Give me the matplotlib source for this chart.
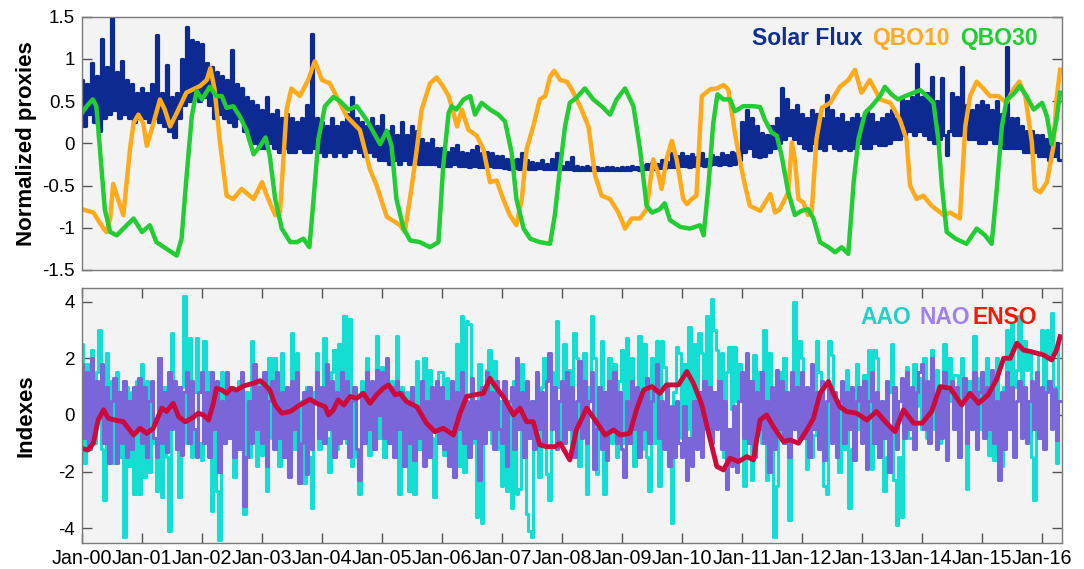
import numpy as np
import matplotlib
matplotlib.use("Agg")
import matplotlib.pyplot as plt
from matplotlib.offsetbox import TextArea, HPacker, AnchoredOffsetbox

plt.rcParams.update({"font.family": ["Liberation Sans", "DejaVu Sans"],
                     "axes.unicode_minus": False})

# ---------------- data ----------------
# solar flux, normalized, two samples per month (Jan-2000 .. Apr-2016)
solar = [
    0.75, 0.2, 0.7, 0.35, 0.95, 0.25, 0.8, 0.15, 1.24, 0.3, 0.9, 0.35, 1.5, 0.4, 0.85, 0.3, 0.98, 0.35, 0.75, 0.3, 0.7, 0.25, 0.6, 0.3,
    0.65, 0.3, 0.6, 0.25, 0.7, 0.3, 1.28, 0.25, 0.6, 0.2, 0.93, 0.15, 0.55, 0.08, 0.6, 0.3, 1.0, 0.45, 1.38, 0.5, 1.22, 0.55, 1.2, 0.5,
    1.18, 0.55, 0.95, 0.45, 0.9, 0.3, 0.85, 0.35, 0.8, 0.3, 0.75, 0.25, 1.1, 0.2, 0.7, 0.3, 0.65, 0.15, 0.55, 0.05, 0.5, 0.0, 0.45, -0.05,
    0.4, -0.05, 0.55, 0.0, 0.35, -0.05, 0.4, -0.1, 0.3, -0.05, 0.35, -0.1, 0.3, -0.1, 0.25, -0.05, 0.3, -0.1, 0.45, -0.1, 1.3, -0.05, 0.3, -0.1,
    0.25, -0.15, 0.2, -0.1, 0.3, -0.15, 0.2, -0.1, 0.25, -0.15, 0.35, -0.1, 0.55, -0.05, 0.3, -0.1, 0.25, -0.15, 0.2, -0.1, 0.3, -0.15, 0.2, -0.2,
    0.33, -0.2, 0.15, -0.25, 0.2, -0.2, 0.1, -0.25, 0.25, -0.2, 0.1, -0.25, 0.2, -0.2, 0.15, -0.25, 0.05, -0.25, 0.0, -0.25, 0.05, -0.25, -0.05, -0.27,
    -0.05, -0.27, -0.1, -0.27, -0.05, -0.25, -0.02, -0.27, -0.1, -0.27, -0.12, -0.28, -0.08, -0.27, -0.03, -0.28, -0.12, -0.28, -0.1, -0.27, -0.12, -0.28, -0.15, -0.28,
    -0.15, -0.29, -0.18, -0.3, -0.2, -0.29, -0.18, -0.3, -0.12, -0.29, -0.2, -0.3, -0.22, -0.3, -0.23, -0.29, -0.2, -0.3, -0.25, -0.3, -0.18, -0.3, -0.12, -0.3,
    -0.27, -0.3, -0.22, -0.3, -0.16, -0.31, -0.27, -0.31, -0.28, -0.31, -0.27, -0.31, -0.28, -0.31, -0.28, -0.31, -0.29, -0.31, -0.28, -0.31, -0.28, -0.31, -0.29, -0.31,
    -0.28, -0.31, -0.28, -0.31, -0.27, -0.3, -0.28, -0.31, -0.26, -0.3, -0.25, -0.3, -0.23, -0.3, -0.24, -0.29, -0.2, -0.29, -0.22, -0.28, -0.12, -0.28, -0.15, -0.27,
    -0.12, -0.27, -0.15, -0.28, -0.13, -0.27, -0.16, -0.26, -0.12, -0.27, -0.18, -0.26, -0.14, -0.25, -0.16, -0.26, -0.12, -0.25, -0.14, -0.26, -0.1, -0.25, -0.12, -0.2,
    0.25, -0.1, 0.39, -0.05, 0.3, -0.15, 0.2, -0.16, 0.12, -0.15, 0.1, -0.1, 0.2, -0.05, 0.3, 0.0, 0.65, 0.05, 0.53, 0.1, 0.39, 0.05, 0.45, 0.0,
    0.35, -0.05, 0.3, -0.08, 0.4, 0.0, 0.35, -0.05, 0.3, -0.08, 0.57, 0.0, 0.4, -0.05, 0.3, -0.08, 0.35, -0.05, 0.25, -0.08, 0.3, -0.05, 0.35, 0.0,
    0.3, -0.05, 0.4, -0.06, 0.35, 0.0, 0.25, -0.02, 0.3, -0.02, 0.35, 0.0, 0.4, 0.05, 0.3, 0.05, 0.55, 0.1, 0.5, 0.15, 0.55, 0.1, 0.94, 0.15,
    0.55, 0.1, 0.6, 0.05, 0.79, 0.0, 0.5, 0.05, 0.77, 0.1, -0.14, 0.15, 0.6, 0.1, 0.55, 0.1, 0.9, 0.15, 0.45, 0.05, 0.4, 0.05, 0.45, 0.0,
    0.5, 0.0, 0.45, 0.05, 0.4, 0.0, 0.5, 0.0, 0.35, -0.05, 1.14, -0.05, 0.3, -0.05, 0.3, -0.05, 0.2, -0.1, 0.15, -0.1, 0.15, -0.1, 0.1, -0.15,
    0.1, -0.15, 0.05, -0.2, 0.1, -0.15, 0.0, -0.2,
]

# QBO indices, traced points (decimal year since 2000, normalized value)
qbo10_t = [0.0, 0.19, 0.36, 0.41, 0.47, 0.52, 0.6, 0.69, 0.8, 0.86, 0.94, 1.02, 1.08, 1.16, 1.3, 1.38, 1.47, 1.58, 1.74, 1.97,
           2.08, 2.14, 2.21, 2.3, 2.41, 2.52, 2.66, 2.86, 3.0, 3.08, 3.22, 3.3, 3.41, 3.49, 3.63, 3.77, 3.88, 4.0, 4.13, 4.24,
           4.41, 4.63, 4.8, 4.91, 5.08, 5.3, 5.38, 5.49, 5.58, 5.66, 5.8, 5.91, 6.02, 6.11, 6.19, 6.25, 6.33, 6.44, 6.58, 6.69,
           6.8, 6.91, 7.02, 7.13, 7.24, 7.33, 7.41, 7.52, 7.63, 7.72, 7.8, 7.87, 7.97, 8.08, 8.16, 8.3, 8.44, 8.55, 8.66, 8.8,
           8.94, 9.05, 9.16, 9.3, 9.41, 9.52, 9.6, 9.66, 9.74, 9.83, 9.91, 10.02, 10.08, 10.16, 10.24, 10.33, 10.47, 10.58, 10.69, 10.77,
           10.88, 10.97, 11.05, 11.13, 11.3, 11.47, 11.55, 11.63, 11.77, 11.83, 11.88, 11.94, 12.02, 12.1, 12.16, 12.24, 12.33, 12.47, 12.63, 12.77,
           12.88, 12.99, 13.13, 13.3, 13.47, 13.63, 13.74, 13.8, 13.91, 14.02, 14.16, 14.36, 14.47, 14.63, 14.72, 14.8, 14.91, 15.02, 15.13, 15.27,
           15.41, 15.52, 15.62, 15.72, 15.83, 15.88, 15.97, 16.08, 16.19, 16.24, 16.3]
qbo10 = [-0.78, -0.82, -1.01, -1.05, -0.89, -0.48, -0.66, -0.85, -0.07, 0.24, 0.34, 0.24, -0.03, 0.16, 0.52, 0.40, 0.20, 0.36, 0.60, 0.68,
         0.75, 0.89, 0.64, 0.01, -0.62, -0.66, -0.54, -0.66, -0.46, -0.62, -0.85, -0.82, 0.40, 0.65, 0.56, 0.75, 0.97, 0.75, 0.71, 0.56,
         0.32, 0.16, -0.31, -0.50, -0.87, -0.97, -1.05, -0.54, -0.07, 0.40, 0.71, 0.78, 0.67, 0.56, 0.36, 0.20, 0.40, 0.16, 0.09, -0.07,
         -0.46, -0.44, -0.66, -0.85, -0.97, -0.66, -0.07, 0.20, 0.52, 0.56, 0.79, 0.86, 0.75, 0.73, 0.64, 0.44, 0.20, -0.38, -0.62, -0.66,
         -0.82, -1.01, -0.89, -0.89, -0.78, -0.19, -0.35, -0.54, -0.19, 0.03, -0.19, -0.66, -0.72, -0.66, -0.62, 0.56, 0.64, 0.65, 0.69, 0.64,
         0.13, -0.23, -0.50, -0.74, -0.80, -0.60, -0.82, -0.78, -0.58, 0.01, -0.19, -0.66, -0.70, -0.85, -0.82, 0.05, 0.42, 0.48, 0.67, 0.75,
         0.87, 0.60, 0.75, 0.52, 0.48, 0.28, 0.05, -0.50, -0.66, -0.62, -0.74, -0.85, -0.82, -0.89, 0.20, 0.56, 0.73, 0.65, 0.56, 0.56,
         0.48, 0.64, 0.73, 0.56, 0.01, -0.54, -0.58, -0.46, -0.03, 0.52, 0.87]

qbo30_t = [0.0, 0.08, 0.18, 0.24, 0.3, 0.38, 0.47, 0.58, 0.69, 0.86, 1.0, 1.13, 1.24, 1.41, 1.58, 1.66, 1.74, 1.83, 1.91, 2.0,
           2.13, 2.24, 2.33, 2.41, 2.52, 2.63, 2.74, 2.86, 2.97, 3.06, 3.13, 3.22, 3.33, 3.47, 3.58, 3.69, 3.79, 3.86, 3.94, 4.05,
           4.19, 4.3, 4.44, 4.58, 4.74, 4.86, 4.97, 5.08, 5.16, 5.24, 5.36, 5.47, 5.63, 5.8, 5.94, 6.02, 6.11, 6.16, 6.24, 6.36,
           6.47, 6.55, 6.66, 6.8, 6.94, 7.05, 7.16, 7.24, 7.36, 7.47, 7.63, 7.8, 7.88, 7.97, 8.05, 8.13, 8.24, 8.38, 8.52, 8.66,
           8.8, 8.91, 9.05, 9.19, 9.3, 9.41, 9.5, 9.63, 9.71, 9.8, 9.97, 10.13, 10.3, 10.36, 10.44, 10.52, 10.59, 10.69, 10.8, 10.88,
           11.02, 11.19, 11.3, 11.38, 11.49, 11.58, 11.66, 11.77, 11.88, 11.99, 12.1, 12.19, 12.3, 12.44, 12.55, 12.66, 12.77, 12.86, 12.94, 13.05,
           13.16, 13.3, 13.38, 13.49, 13.6, 13.72, 13.86, 13.97, 14.08, 14.19, 14.27, 14.33, 14.41, 14.56, 14.74, 14.91, 15.05, 15.16, 15.24, 15.33,
           15.41, 15.52, 15.63, 15.74, 15.86, 16.0, 16.08, 16.16, 16.24, 16.3]
qbo30 = [0.36, 0.44, 0.52, 0.44, -0.07, -0.78, -1.05, -1.09, -1.01, -0.89, -1.05, -0.97, -1.17, -1.25, -1.33, -1.13, -0.42, 0.32, 0.62, 0.52,
         0.67, 0.56, 0.56, 0.42, 0.44, 0.32, 0.16, -0.13, -0.03, 0.07, -0.15, -0.66, -1.01, -1.17, -1.17, -1.13, -1.23, -0.66, 0.05, 0.44,
         0.55, 0.50, 0.40, 0.44, 0.28, 0.13, -0.01, 0.15, -0.03, -0.66, -1.01, -1.15, -1.17, -1.23, -1.17, -0.27, 0.36, 0.44, 0.40, 0.52,
         0.56, 0.34, 0.48, 0.40, 0.34, 0.26, -0.11, -0.66, -1.01, -1.13, -1.17, -1.19, -0.85, -0.27, 0.20, 0.48, 0.54, 0.65, 0.52, 0.44,
         0.34, 0.52, 0.65, 0.44, -0.07, -0.74, -0.82, -0.78, -0.71, -0.91, -0.99, -1.01, -0.97, -1.09, -0.50, 0.24, 0.58, 0.52, 0.52, 0.38,
         0.44, 0.44, 0.43, 0.28, 0.13, 0.09, -0.15, -0.58, -0.85, -0.80, -0.78, -0.89, -1.17, -1.23, -1.29, -1.23, -1.31, -0.46, 0.05, 0.36,
         0.44, 0.56, 0.67, 0.58, 0.52, 0.56, 0.60, 0.63, 0.56, 0.48, 0.05, -0.50, -1.05, -1.13, -1.19, -1.01, -1.09, -1.19, -0.58, 0.20,
         0.52, 0.58, 0.68, 0.56, 0.40, 0.48, 0.32, -0.01, 0.28, 0.60]

# AAO and NAO indices, two samples per month (Jan-2000 .. Apr-2016)
aao = [
    2.5, -1.7, 1.8, -0.5, 2.3, -1.0, 1.5, 3.0, -1.2, -3.0, 2.2, -0.8, 1.2, -1.7, 1.5, -1.5, 0.5, -4.3, 1.0, -1.8, 0.8, -2.8, 1.2, -2.8,
    1.8, -2.2, 1.2, -2.0, 0.8, -1.0, -2.7, 2.0, -2.9, 1.0, -1.5, -4.1, 2.9, 0.5, -1.2, -2.9, 1.0, 4.2, -1.0, 2.7, -1.5, 0.8, 2.7, -1.0,
    -1.6, 2.6, -1.0, 1.5, -3.4, 0.5, -2.7, -4.4, 1.5, -1.0, 0.8, -0.5, 1.0, -2.2, 0.5, 1.2, -1.0, -3.5, 0.8, -1.5, 2.6, 1.0, -1.8, 1.2,
    -1.4, 0.5, -2.7, 2.0, -0.8, 2.0, 1.0, -1.8, 2.2, -0.5, 0.8, -1.5, 2.9, -1.2, 2.2, -2.0, 0.5, -2.4, 1.0, -1.5, -3.3, 0.8, 2.2, -1.2,
    1.0, 2.7, -0.8, -2.0, 1.5, 2.3, -1.2, 2.5, 0.5, 3.5, -1.0, 3.4, -1.8, 0.8, -1.5, -2.8, 1.2, -0.5, 2.0, -1.4, 0.8, -1.0, 2.8, -0.8,
    1.7, -1.5, 1.9, -1.0, 1.2, -0.8, 2.8, -2.8, 1.0, -1.6, 0.8, -2.7, 1.0, -2.8, 1.9, -1.2, 0.8, 2.0, -1.0, 1.6, -0.8, -2.9, 0.5, 1.5,
    1.5, -1.4, 1.3, -0.8, 0.5, -1.6, 2.5, -1.8, 3.5, -2.0, 3.3, 3.2, -1.0, 0.5, -3.6, 1.8, -3.8, 0.8, 1.6, 2.3, -1.0, 1.9, -1.2, 0.5,
    -2.5, 1.0, -2.7, 0.5, -3.3, 1.2, -2.8, -2.6, 1.8, -1.0, -3.5, -4.1, -4.3, 0.5, -0.5, -2.2, 1.0, 2.0, -2.1, -3.0, 1.5, 0.5, 3.3, 1.0,
    -1.0, 2.5, -0.5, 1.6, -1.2, 2.9, 2.0, -1.8, 0.8, 2.2, -2.8, 1.0, 3.5, 2.0, -2.1, 0.5, 2.6, -2.8, 0.8, 2.0, -1.0, 1.8, -1.5, 1.2,
    2.3, -1.0, 2.7, -0.5, 2.0, -1.8, 0.5, 2.8, -1.2, 2.5, -1.5, -2.7, 2.0, -1.0, 2.6, -2.5, 2.6, 1.7, -0.8, -1.8, -3.8, 0.8, 2.4, 2.2,
    -0.8, 1.8, -0.5, 3.1, -1.6, 2.5, 0.5, 2.9, 2.2, 0.8, 3.5, 0.5, 4.1, 3.0, 2.3, 0.5, 2.2, -1.5, 1.5, 2.4, 0.2, 2.4, 0.5, 1.8,
    1.5, -2.5, 0.8, 1.2, -2.3, 2.1, -0.5, 1.5, -1.0, 3.0, -2.3, 2.2, -1.0, -4.3, -2.5, 1.5, -0.8, 2.0, 0.5, -3.7, 1.3, 4.0, 0.8, 2.6,
    2.0, 0.5, -1.9, 0.8, -1.5, -0.7, 2.6, 1.5, -0.5, -2.5, -2.8, 2.6, 2.1, 0.5, -1.5, -2.0, 0.8, -1.2, 1.6, -3.3, -1.2, 0.5, 1.8, -0.5,
    0.8, 1.4, -0.5, 2.3, -1.9, 2.3, 2.0, -1.5, 0.5, -2.7, -1.5, 0.8, 2.5, -2.3, -3.9, -1.5, -3.6, 0.5, 1.7, -0.8, -0.8, 1.8, 0.3, 1.3,
    -0.5, 2.0, -0.8, 1.0, 2.3, -0.5, 1.6, -1.0, 0.5, 2.5, -1.2, 2.0, 0.5, 1.4, 1.4, -1.2, 2.0, 0.5, -2.6, 1.2, -0.5, 2.8, 1.3, -0.5,
    1.5, -0.5, 2.0, -1.4, 1.2, -1.6, 2.0, 0.5, -1.8, 1.0, 3.0, 0.8, 3.2, 1.0, 1.6, 3.5, 0.5, 2.6, 1.6, 2.3, -1.5, -3.0, 0.8, 2.2,
    3.0, 0.8, 3.0, 2.0, 3.6, 1.0, -1.7, 2.7,
]
nao = [
    1.8, -0.8, 1.5, -1.2, 2.0, -0.5, 1.2, 0.0, 1.8, -1.0, 1.0, -1.7, 0.5, 1.3, -1.7, 0.8, -1.0, 1.2, -1.5, 0.5, -1.2, 1.0, -0.5, 1.3,
    -1.0, 1.0, -1.5, 0.5, 1.2, -0.8, -1.5, 2.0, -1.0, 0.8, -1.3, 1.5, -0.5, 1.2, -1.2, 1.0, -1.4, 0.8, 1.5, -1.0, 1.2, -0.5, -1.5, 0.8,
    1.5, -1.0, 0.8, -1.5, 1.5, -0.5, 1.2, -2.0, 0.5, -1.0, 1.5, -0.8, 1.0, -1.5, 0.8, -1.2, 1.5, -3.2, -1.5, 0.5, -1.0, 1.8, -0.5, 1.0,
    -1.0, 1.5, -1.8, 0.5, 1.2, -1.2, 1.5, -0.8, 0.8, -1.5, 1.0, -2.2, 1.2, -0.5, 1.5, -2.4, -1.0, 0.8, -2.1, 1.0, -1.2, 0.5, 1.5, -0.8,
    1.0, -1.0, 1.8, -0.5, 1.2, -1.5, 0.8, -1.0, 1.5, -0.8, 1.2, -1.5, 0.5, 1.0, -1.2, -2.3, 0.8, -1.0, 1.5, -0.5, 1.2, -1.2, 1.6, 0.0,
    1.5, -0.8, 2.0, -1.0, 1.0, -1.5, 1.2, -0.5, 0.8, -1.8, 0.5, -1.0, 1.0, -1.6, 0.3, -0.8, 1.2, -1.8, 0.5, -1.5, 1.0, -0.5, 1.2, -1.0,
    1.0, -1.2, 0.5, -1.8, 1.2, -2.2, 0.8, -0.5, 1.5, -1.0, 0.5, -1.5, 1.3, -0.8, 0.5, -2.3, 1.0, -1.0, 1.5, -0.5, 0.8, -1.2, 1.2, -0.5,
    -1.0, 1.2, -1.8, 0.5, 1.0, -1.2, 2.0, -0.5, 0.8, -1.5, 1.2, -0.8, 0.5, -1.2, 1.5, -0.5, 0.8, -1.0, 1.2, 2.2, -0.5, 1.0, -1.2, 0.5,
    1.2, -1.0, 1.5, -0.5, 1.0, -1.5, 0.5, 1.9, -0.8, 1.2, -1.0, 0.5, 1.5, -1.9, -0.5, 1.0, -1.2, 0.8, -1.6, 1.2, -0.5, 1.5, -1.0, 0.8,
    -1.2, -2.2, 0.5, -1.0, 1.2, -0.5, 1.0, -1.5, 0.8, -0.5, 1.3, -1.0, 0.5, 1.0, 1.8, -0.8, 0.5, -1.2, 1.0, -1.8, 0.3, -1.5, 0.5, -1.0,
    -1.5, 0.3, -2.3, -0.8, -1.8, 0.5, -1.2, 0.8, -1.5, 1.2, -0.5, 1.0, -1.0, 0.8, -0.5, 1.2, -1.2, 0.5, -2.6, -0.5, -1.8, 0.3, -2.0, 0.5,
    1.5, -0.8, 2.2, -1.0, 1.2, -1.5, 0.8, -0.5, 1.5, -1.0, 0.5, -2.0, 1.0, -1.2, 1.6, -0.5, 1.2, -1.0, 0.8, -1.5, 1.5, -0.5, 1.0, -0.8,
    1.5, -0.8, 1.0, -1.5, 1.8, -0.5, 0.8, -1.2, 1.2, -1.6, 0.5, 1.0, -1.0, 0.8, -1.5, 0.5, 1.2, -1.0, 0.8, -0.5, 1.0, -1.6, 0.5, 1.0,
    -1.0, 1.2, -1.9, 0.5, 1.5, -1.0, 0.8, -1.5, 0.5, -0.8, 1.2, -2.0, -0.5, 1.0, -1.2, 0.5, 1.3, -0.8, 1.5, -0.5, 1.0, -1.2, 0.8, 1.5,
    1.8, -0.5, 1.2, -1.0, 2.0, 0.5, -1.2, 1.0, -0.8, 1.5, -1.6, 0.8, 1.2, -0.5, 1.0, -1.5, 0.5, 1.3, -1.0, 0.8, -0.5, 1.5, -1.2, 0.8,
    1.5, -0.8, 1.0, -0.5, 1.6, -1.0, 0.5, -2.3, 0.8, -1.2, 1.5, -0.5, 1.0, -1.5, 0.5, 1.2, -0.8, 1.0, -1.0, 0.5, 1.2, -0.5, 1.5, -0.8,
    1.0, -1.2, 0.8, 1.2, -0.5, 0.9, -0.9, 0.5,
]

# ENSO index, traced points
enso_t = [0.0, 0.1, 0.19, 0.27, 0.36, 0.44, 0.55, 0.69, 0.86, 0.97, 1.08, 1.19, 1.33, 1.41, 1.52, 1.61, 1.72, 1.83, 1.94, 2.02,
          2.11, 2.19, 2.24, 2.33, 2.41, 2.49, 2.58, 2.69, 2.86, 2.97, 3.05, 3.13, 3.22, 3.33, 3.47, 3.63, 3.8, 3.91, 4.05, 4.11,
          4.19, 4.27, 4.36, 4.47, 4.58, 4.69, 4.8, 4.91, 5.02, 5.11, 5.22, 5.3, 5.41, 5.58, 5.74, 5.88, 6.02, 6.19, 6.3, 6.41,
          6.55, 6.69, 6.8, 6.91, 7.02, 7.19, 7.3, 7.41, 7.52, 7.63, 7.74, 7.88, 7.97, 8.13, 8.24, 8.41, 8.55, 8.72, 8.86, 8.97,
          9.13, 9.24, 9.36, 9.5, 9.63, 9.74, 9.94, 10.08, 10.19, 10.33, 10.47, 10.58, 10.69, 10.8, 10.94, 11.08, 11.19, 11.3, 11.41, 11.52,
          11.69, 11.8, 11.94, 12.08, 12.19, 12.3, 12.44, 12.52, 12.63, 12.74, 12.91, 13.08, 13.24, 13.41, 13.55, 13.69, 13.86, 14.0, 14.16, 14.3,
          14.47, 14.66, 14.8, 14.94, 15.1, 15.24, 15.36, 15.47, 15.58, 15.69, 15.8, 15.91, 16.02, 16.16, 16.24, 16.3]
enso = [-1.18, -1.24, -1.0, -0.18, 0.18, -0.12, -0.18, -0.24, -0.71, -0.47, -0.65, -0.47, 0.24, 0.12, 0.41, -0.06, -0.24, -0.12, 0.06, 0.0,
        -0.18, 0.41, 0.94, 0.88, 0.76, 0.94, 0.88, 1.02, 1.12, 1.21, 1.06, 0.88, 0.35, 0.06, 0.12, 0.35, 0.55, 0.41, 0.29, 0.0,
        0.18, 0.53, 0.35, 0.65, 0.59, 0.76, 0.41, 0.71, 0.94, 1.06, 0.71, 0.76, 0.47, 0.29, -0.29, -0.59, -0.47, -0.71, 0.06, 0.65,
        0.71, 0.76, 1.29, 0.94, 0.65, 0.0, 0.24, -0.24, -0.24, -1.06, -1.12, -1.12, -1.0, -1.59, -0.53, 0.24, -0.18, -0.71, -0.53, -0.71,
        -0.65, 0.18, 0.88, 1.0, 0.76, 1.06, 1.06, 1.53, 1.12, 0.35, -0.88, -1.82, -1.94, -1.53, -1.65, -1.47, -1.59, -0.18, 0.0, -0.41,
        -0.94, -0.88, -1.0, -0.53, -0.12, 0.76, 1.18, 0.76, 0.29, 0.12, 0.06, -0.18, 0.12, -0.29, -0.59, 0.18, -0.29, -0.29, 0.12, 1.0,
        0.94, 0.35, 0.76, 0.41, 0.71, 1.24, 2.0, 2.0, 2.53, 2.29, 2.24, 2.18, 2.12, 1.94, 2.29, 2.76]

years = list(range(2000, 2017))
year_labels = ["Jan-%02d" % (y % 100) for y in years]

# ---------------- figure ----------------
C_SOLAR = "#0c2a92"
C_Q10 = "#ffaa1a"
C_Q30 = "#22cc33"
C_AAO = "#14ddd2"
C_NAO = "#7a66d8"
C_ENSO = "#cc0a3c"
BG = "#f3f3f3"

fig = plt.figure(figsize=(10.84, 5.69), dpi=100)
ax1 = fig.add_axes([0.0756, 0.5255, 0.904, 0.4452])
ax2 = fig.add_axes([0.0756, 0.0452, 0.904, 0.4482])

t_half = 2000 + np.arange(len(solar)) / 24.0
ax1.plot(t_half, solar, color=C_SOLAR, lw=2.3, drawstyle="steps-mid")
ax1.plot(2000 + np.array(qbo10_t), qbo10, color=C_Q10, lw=3.2, solid_joinstyle="round")
ax1.plot(2000 + np.array(qbo30_t), qbo30, color=C_Q30, lw=3.2, solid_joinstyle="round")

ax2.plot(2000 + np.arange(len(aao)) / 24.0, aao, color=C_AAO, lw=2.2, drawstyle="steps-mid")
ax2.plot(2000 + np.arange(len(nao)) / 24.0, nao, color=C_NAO, lw=2.2, drawstyle="steps-mid")
ax2.plot(2000 + np.array(enso_t), enso, color=C_ENSO, lw=3.5, solid_joinstyle="round")

for ax in (ax1, ax2):
    ax.set_facecolor(BG)
    ax.set_xlim(2000, 2016.33)
    for s in ax.spines.values():
        s.set_color("#7a7a7a")
        s.set_linewidth(1.0)
    ax.tick_params(direction="in", length=7, width=1.0, color="#555555",
                   labelsize=13.5, left=True, right=True, pad=5)

ax1.set_ylim(-1.5, 1.5)
ax1.set_yticks([-1.5, -1, -0.5, 0, 0.5, 1, 1.5])
ax1.set_yticklabels(["-1.5", "-1", "-0.5", "0", "0.5", "1", "1.5"])
ax1.set_xticks([])
ax1.set_ylabel("Normalized proxies", fontsize=16, fontweight="bold")

ax2.set_ylim(-4.53, 4.47)
ax2.set_yticks([-4, -2, 0, 2, 4])
ax2.set_yticklabels(["-4", "-2", "0", "2", "4"])
ax2.set_xticks(years)
ax2.set_xticklabels(year_labels)
ax2.tick_params(axis="x", top=True, bottom=True, labelsize=14.2, pad=4)
ax2.set_ylabel("Indexes", fontsize=16, fontweight="bold")
for ax in (ax1, ax2):
    ax.yaxis.set_label_coords(-0.046, 0.5)


def word(s, c):
    return TextArea(s, textprops=dict(color=c, fontsize=16.5, fontweight="bold"))


top_pack = HPacker(children=[word("Solar Flux", "#10308f"), word("QBO10", "#ffaa22"),
                             word("QBO30", "#22cc33")], align="baseline", pad=0, sep=7)
ax1.add_artist(AnchoredOffsetbox(loc="upper right", child=top_pack, pad=0, borderpad=0,
                                 frameon=False, bbox_to_anchor=(0.975, 0.96),
                                 bbox_transform=ax1.transAxes))

bot_pack = HPacker(children=[word("AAO", "#22d0c8"),
                             HPacker(children=[word("NAO", "#a07ff0"), word("ENSO", "#ee1a0a")],
                                     align="baseline", pad=0, sep=2)],
                   align="baseline", pad=0, sep=6)
ax2.add_artist(AnchoredOffsetbox(loc="upper right", child=bot_pack, pad=0, borderpad=0,
                                 frameon=False, bbox_to_anchor=(0.975, 0.93),
                                 bbox_transform=ax2.transAxes))

fig.savefig("out.png", dpi=100)
